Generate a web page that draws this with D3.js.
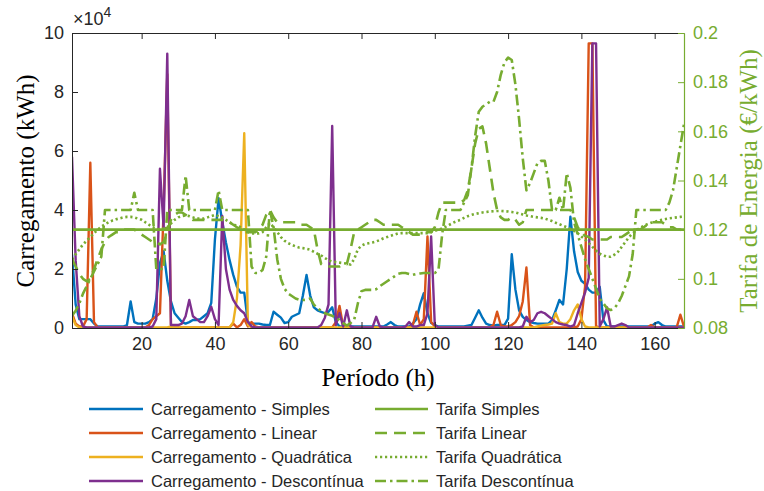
<!DOCTYPE html>
<html>
<head>
<meta charset="utf-8">
<script src="https://cdn.jsdelivr.net/npm/d3@7"></script>
<style>
  html, body { margin: 0; padding: 0; background: #fff; }
  svg { display: block; }
</style>
</head>
<body>
<svg id="chart" width="764" height="491"></svg>
<script>
// Hourly charging energy (in units of 10^4 kWh) for each tariff scheme
const hours = d3.range(1, 169);

const cargaSimples = [
  2.5, 0.8, 0.3, 0.3, 0.3, 0.3, 0.15, 0.05, 0.05, 0.05, 0.05, 0.05,
  0.05, 0.05, 0.05, 0.1, 0.9, 0.2, 0.15, 0.15, 0.15, 0.2, 0.3, 1.0,
  2.2, 2.6, 1.6, 0.9, 0.5, 0.35, 0.2, 0.15, 0.2, 0.27, 0.27, 0.3,
  0.4, 0.5, 0.85, 3.0, 4.4, 3.6, 2.9, 2.3, 1.8, 1.4, 1.2, 1.2,
  0.2, 0.15, 0.15, 0.15, 0.12, 0.1, 0.1, 0.55, 0.45, 0.35, 0.17, 0.2,
  0.38, 0.44, 0.5, 1.1, 1.8, 1.1, 0.7, 0.6, 0.55, 0.5, 0.55, 0.7,
  0.2, 0.05, 0.05, 0.05, 0.05, 0.05, 0.05, 0.05, 0.05, 0.05, 0.05, 0.05,
  0.05, 0.05, 0.12, 0.2, 0.1, 0.05, 0.05, 0.05, 0.05, 0.15, 0.3, 0.8,
  1.18, 0.5, 0.17, 0.1, 0.05, 0.05, 0.05, 0.05, 0.05, 0.05, 0.05, 0.05,
  0.08, 0.1, 0.35, 0.6, 0.35, 0.15, 0.1, 0.08, 0.1, 0.1, 0.1, 0.32,
  2.5, 1.3, 0.6, 0.38, 0.27, 0.2, 0.17, 0.15, 0.15, 0.15, 0.15, 0.27,
  0.6, 0.95, 0.8, 2.0, 3.77, 2.6, 1.9, 1.6, 1.5, 1.3, 1.2, 1.2,
  1.4, 0.27, 0.05, 0.05, 0.05, 0.05, 0.05, 0.05, 0.05, 0.05, 0.05, 0.05,
  0.05, 0.05, 0.05, 0.15, 0.2, 0.1, 0.05, 0.05, 0.05, 0.05, 0.05, 0.05
];

const cargaLinear = [
  0.5, 0.15, 0.05, 0.05, 0.3, 5.6, 0.2, 0.02, 0.02, 0.02, 0.02, 0.02,
  0.02, 0.02, 0.02, 0.02, 0.02, 0.02, 0.02, 0.02, 0.02, 0.1, 0.3, 0.4,
  0.5, 4.0, 8.6, 0.1, 0.02, 0.02, 0.02, 0.02, 0.02, 0.02, 0.02, 0.02,
  0.02, 0.02, 0.02, 0.02, 0.02, 0.02, 0.02, 0.02, 0.15, 0.02, 0.1, 0.3,
  0.05, 0.2, 0.05, 0.02, 0.02, 0.02, 0.02, 0.02, 0.02, 0.02, 0.02, 0.02,
  0.02, 0.02, 0.02, 0.02, 0.02, 0.02, 0.02, 0.02, 0.02, 0.02, 0.02, 0.02,
  0.2, 0.75, 0.05, 0.02, 0.02, 0.02, 0.02, 0.02, 0.02, 0.02, 0.02, 0.02,
  0.02, 0.02, 0.02, 0.02, 0.02, 0.02, 0.02, 0.02, 0.02, 0.1, 0.55, 0.1,
  0.3, 3.1, 0.2, 0.05, 0.02, 0.02, 0.02, 0.02, 0.02, 0.02, 0.02, 0.02,
  0.02, 0.02, 0.02, 0.02, 0.02, 0.02, 0.02, 0.1, 0.55, 0.1, 0.05, 0.05,
  0.1, 0.2, 0.4, 0.9, 2.05, 0.1, 0.02, 0.02, 0.02, 0.02, 0.02, 0.02,
  0.02, 0.02, 0.02, 0.02, 0.02, 0.02, 0.05, 0.3, 1.4, 9.65, 9.65, 0.05,
  0.02, 0.02, 0.02, 0.02, 0.02, 0.02, 0.02, 0.02, 0.02, 0.02, 0.02, 0.02,
  0.02, 0.02, 0.1, 0.02, 0.02, 0.02, 0.02, 0.02, 0.02, 0.02, 0.45, 0.05
];

const cargaQuadratica = [
  0.4, 0.1, 0.02, 0.02, 0.02, 0.02, 0.02, 0.02, 0.02, 0.02, 0.02, 0.02,
  0.02, 0.02, 0.02, 0.02, 0.02, 0.02, 0.02, 0.02, 0.02, 0.02, 0.02, 0.02,
  0.02, 0.02, 0.02, 0.05, 0.02, 0.02, 0.02, 0.02, 0.02, 0.02, 0.02, 0.02,
  0.02, 0.02, 0.02, 0.02, 0.02, 0.02, 0.02, 0.02, 0.2, 1.0, 2.8, 6.6,
  0.1, 0.02, 0.02, 0.02, 0.02, 0.02, 0.02, 0.02, 0.02, 0.02, 0.02, 0.02,
  0.02, 0.02, 0.02, 0.02, 0.02, 0.02, 0.02, 0.02, 0.02, 0.02, 0.02, 0.02,
  0.02, 0.02, 0.02, 0.02, 0.02, 0.02, 0.02, 0.02, 0.02, 0.02, 0.02, 0.02,
  0.02, 0.02, 0.02, 0.02, 0.02, 0.02, 0.02, 0.02, 0.02, 0.02, 0.02, 0.02,
  0.02, 0.02, 0.02, 0.02, 0.02, 0.02, 0.02, 0.02, 0.02, 0.02, 0.02, 0.02,
  0.02, 0.02, 0.02, 0.02, 0.02, 0.02, 0.02, 0.02, 0.02, 0.02, 0.02, 0.02,
  0.02, 0.02, 0.02, 0.02, 0.02, 0.02, 0.02, 0.05, 0.08, 0.1, 0.12, 0.15,
  0.5, 0.2, 0.15, 0.15, 0.3, 0.6, 0.8, 0.3, 0.05, 0.02, 0.02, 0.02,
  0.02, 0.02, 0.02, 0.02, 0.02, 0.02, 0.02, 0.02, 0.02, 0.02, 0.02, 0.02,
  0.02, 0.02, 0.02, 0.02, 0.02, 0.02, 0.02, 0.02, 0.02, 0.02, 0.02, 0.02
];

const cargaDescontinua = [
  5.8, 2.3, 0.4, 0.05, 0.02, 0.02, 0.02, 0.02, 0.02, 0.02, 0.02, 0.02,
  0.02, 0.02, 0.02, 0.02, 0.02, 0.02, 0.02, 0.02, 0.02, 0.02, 0.05, 0.3,
  5.4, 3.4, 9.3, 0.1, 0.1, 0.1, 0.15, 0.4, 0.95, 0.4, 0.3, 0.2,
  0.2, 0.4, 0.72, 0.3, 0.1, 3.8, 2.0, 1.3, 0.95, 0.75, 0.6, 0.5,
  0.2, 0.05, 0.02, 0.02, 0.02, 0.02, 0.02, 0.02, 0.02, 0.02, 0.02, 0.02,
  0.02, 0.02, 0.02, 0.02, 0.02, 0.02, 0.02, 0.02, 0.1, 0.35, 0.8, 6.85,
  0.1, 0.5, 0.05, 0.6, 0.05, 0.02, 0.02, 0.02, 0.02, 0.02, 0.02, 0.38,
  0.05, 0.02, 0.02, 0.02, 0.02, 0.02, 0.02, 0.05, 0.2, 0.05, 0.05, 0.1,
  0.1, 0.5, 3.1, 0.1, 0.02, 0.02, 0.02, 0.02, 0.02, 0.02, 0.02, 0.02,
  0.02, 0.02, 0.02, 0.02, 0.02, 0.02, 0.02, 0.02, 0.02, 0.02, 0.02, 0.02,
  0.02, 0.02, 0.02, 0.05, 0.38, 0.2, 0.27, 0.5, 0.55, 0.5, 0.4, 0.3,
  0.2, 0.15, 0.12, 0.1, 0.05, 0.1, 0.5, 0.85, 1.2, 1.7, 9.65, 9.65,
  0.05, 0.3, 0.7, 0.05, 0.05, 0.1, 0.15, 0.1, 0.02, 0.02, 0.02, 0.02,
  0.02, 0.02, 0.02, 0.02, 0.02, 0.02, 0.02, 0.02, 0.02, 0.02, 0.02, 0.02
];

// Energy tariffs (EUR/kWh)
const tarifaSimples = 0.12;

const tarifaLinear = [
  0.108, 0.105, 0.102, 0.100, 0.099, 0.100, 0.104, 0.108, 0.112, 0.115, 0.117, 0.118,
  0.119, 0.119, 0.120, 0.120, 0.120, 0.120, 0.119, 0.118, 0.117, 0.116, 0.115, 0.115,
  0.114, 0.115, 0.119, 0.124, 0.126, 0.127, 0.127, 0.126, 0.125, 0.124, 0.124, 0.124,
  0.124, 0.124, 0.124, 0.124, 0.124, 0.124, 0.123, 0.123, 0.122, 0.121, 0.120, 0.119,
  0.119, 0.119, 0.119, 0.120, 0.122, 0.126, 0.128, 0.125, 0.123, 0.123, 0.123, 0.123,
  0.123, 0.123, 0.122, 0.122, 0.122, 0.121, 0.120, 0.112, 0.106, 0.105, 0.105, 0.105,
  0.105, 0.105, 0.106, 0.106, 0.112, 0.119, 0.120, 0.121, 0.122, 0.123, 0.124, 0.124,
  0.123, 0.122, 0.122, 0.122, 0.122, 0.122, 0.121, 0.120, 0.119, 0.118, 0.118, 0.118,
  0.118, 0.119, 0.119, 0.121, 0.127, 0.131, 0.131, 0.131, 0.131, 0.131, 0.131, 0.132,
  0.136, 0.145, 0.155, 0.161, 0.162, 0.155, 0.145, 0.135, 0.128, 0.125, 0.124, 0.124,
  0.125, 0.124, 0.122, 0.123, 0.128, 0.128, 0.128, 0.128, 0.128, 0.128, 0.128, 0.128,
  0.128, 0.128, 0.128, 0.128, 0.128, 0.125, 0.121, 0.119, 0.1175, 0.117, 0.116, 0.116,
  0.116, 0.116, 0.116, 0.117, 0.117, 0.117, 0.117, 0.118, 0.119, 0.120, 0.120, 0.120,
  0.121, 0.122, 0.123, 0.123, 0.123, 0.123, 0.122, 0.121, 0.121, 0.120, 0.120, 0.119
];

const tarifaQuadratica = [
  0.108, 0.110, 0.112, 0.114, 0.1155, 0.117, 0.1185, 0.120, 0.1212, 0.1222, 0.123, 0.1237,
  0.1242, 0.1246, 0.125, 0.1252, 0.1252, 0.125, 0.1245, 0.124, 0.123, 0.122, 0.121, 0.1205,
  0.120, 0.1205, 0.121, 0.1225, 0.124, 0.125, 0.1255, 0.1258, 0.1255, 0.125, 0.1245, 0.1245,
  0.1245, 0.125, 0.1255, 0.126, 0.1255, 0.125, 0.124, 0.123, 0.1222, 0.1215, 0.121, 0.120,
  0.119, 0.1185, 0.1185, 0.1185, 0.119, 0.121, 0.1227, 0.121, 0.119, 0.117, 0.1155, 0.1145,
  0.1138, 0.1132, 0.1127, 0.1125, 0.1122, 0.1118, 0.111, 0.1102, 0.1095, 0.1085, 0.1075, 0.107,
  0.1068, 0.1066, 0.1064, 0.1062, 0.1058, 0.108, 0.112, 0.1135, 0.1142, 0.1145, 0.1148, 0.1152,
  0.1158, 0.1165, 0.117, 0.1175, 0.118, 0.1185, 0.1186, 0.1186, 0.1186, 0.1186, 0.1186, 0.1186,
  0.1186, 0.1186, 0.119, 0.1195, 0.120, 0.1205, 0.1212, 0.122, 0.1228, 0.1235, 0.124, 0.1248,
  0.1255, 0.126, 0.1264, 0.1267, 0.127, 0.1272, 0.1274, 0.1275, 0.1276, 0.1276, 0.1275, 0.1274,
  0.1272, 0.127, 0.1266, 0.1262, 0.1258, 0.1255, 0.1252, 0.125, 0.1248, 0.1245, 0.124, 0.1235,
  0.1228, 0.1222, 0.1216, 0.121, 0.1203, 0.1195, 0.1185, 0.1172, 0.116, 0.1145, 0.113, 0.1115,
  0.1102, 0.1095, 0.109, 0.109, 0.1098, 0.111, 0.113, 0.115, 0.117, 0.1185, 0.1197, 0.1207,
  0.1215, 0.1222, 0.1228, 0.1232, 0.1236, 0.124, 0.1243, 0.1246, 0.1248, 0.125, 0.1252, 0.1253
];

const tarifaDescontinua = [
  0.085, 0.087, 0.090, 0.094, 0.097, 0.100, 0.103, 0.106, 0.109, 0.128, 0.128, 0.128,
  0.128, 0.128, 0.128, 0.128, 0.128, 0.135, 0.128, 0.128, 0.128, 0.128, 0.128, 0.104,
  0.104, 0.104, 0.128, 0.128, 0.128, 0.128, 0.128, 0.142, 0.128, 0.128, 0.128, 0.128,
  0.128, 0.128, 0.128, 0.128, 0.136, 0.128, 0.128, 0.128, 0.128, 0.128, 0.128, 0.128,
  0.128, 0.105, 0.1024, 0.1024, 0.1036, 0.109, 0.128, 0.121, 0.108, 0.100, 0.096, 0.094,
  0.093, 0.092, 0.0915, 0.0914, 0.0915, 0.092, 0.0895, 0.088, 0.087, 0.086, 0.0855, 0.085,
  0.084, 0.0833, 0.082, 0.081, 0.082, 0.0833, 0.090, 0.095, 0.0955, 0.0955, 0.0955, 0.0958,
  0.097, 0.098, 0.099, 0.100, 0.101, 0.102, 0.1024, 0.1024, 0.102, 0.1016, 0.102, 0.1022,
  0.1024, 0.1024, 0.1024, 0.1024, 0.1036, 0.118, 0.128, 0.128, 0.128, 0.128, 0.128, 0.131,
  0.134, 0.145, 0.158, 0.168, 0.170, 0.171, 0.172, 0.172, 0.176, 0.183, 0.188, 0.190,
  0.189, 0.179, 0.165, 0.149, 0.136, 0.139, 0.143, 0.147, 0.148, 0.148, 0.140, 0.128,
  0.128, 0.133, 0.128, 0.143, 0.137, 0.123, 0.118, 0.113, 0.108, 0.104, 0.100, 0.096,
  0.092, 0.090, 0.088, 0.0873, 0.088, 0.090, 0.093, 0.097, 0.101, 0.110, 0.128, 0.128,
  0.128, 0.128, 0.128, 0.128, 0.128, 0.128, 0.128, 0.131, 0.136, 0.145, 0.154, 0.163
];

const yLeftTicks = [0, 2, 4, 6, 8, 10];
const yRightTicks = [0.08, 0.1, 0.12, 0.14, 0.16, 0.18, 0.2];
const xTicks = [20, 40, 60, 80, 100, 120, 140, 160];

const cargaSeries = [
  { name: "Carregamento - Simples", values: cargaSimples, color: "#0072BD" },
  { name: "Carregamento - Linear", values: cargaLinear, color: "#D95319" },
  { name: "Carregamento - Quadrática", values: cargaQuadratica, color: "#EDB120" },
  { name: "Carregamento - Descontínua", values: cargaDescontinua, color: "#7E2F8E" }
];
const green = "#77AC30";
const tarifaSeries = [
  { name: "Tarifa Simples", values: hours.map(() => tarifaSimples), dash: null },
  { name: "Tarifa Linear", values: tarifaLinear, dash: "12,7" },
  { name: "Tarifa Quadrática", values: tarifaQuadratica, dash: "2.2,2.8" },
  { name: "Tarifa Descontínua", values: tarifaDescontinua, dash: "11,4,2.5,4" }
];

const svg = d3.select("#chart");
const plot = { left: 72, right: 684, top: 33, bottom: 328 };
const axisColor = "#262626";
const sansFont = '"Liberation Sans", Arial, sans-serif';
const serifFont = '"Liberation Serif", "Times New Roman", serif';

const x = d3.scaleLinear().domain([1, 168]).range([plot.left, plot.right]);
const yL = d3.scaleLinear().domain([0, 10]).range([plot.bottom, plot.top]);
const yR = d3.scaleLinear().domain([0.08, 0.2]).range([plot.bottom, plot.top]);

svg.append("defs").append("clipPath").attr("id", "plotClip")
  .append("rect")
  .attr("x", plot.left).attr("y", plot.top - 2)
  .attr("width", plot.right - plot.left).attr("height", plot.bottom - plot.top + 2);

// charging curves (left axis)
const lineL = d3.line().x((d, i) => x(hours[i])).y(d => yL(d));
const gL = svg.append("g").attr("clip-path", "url(#plotClip)");
cargaSeries.forEach(s => {
  gL.append("path").datum(s.values)
    .attr("d", lineL)
    .attr("fill", "none")
    .attr("stroke", s.color)
    .attr("stroke-width", 2.4)
    .attr("stroke-linejoin", "round");
});

// tariff curves (right axis)
const lineR = d3.line().x((d, i) => x(hours[i])).y(d => yR(d));
const gR = svg.append("g").attr("clip-path", "url(#plotClip)");
tarifaSeries.forEach(s => {
  gR.append("path").datum(s.values)
    .attr("d", lineR)
    .attr("fill", "none")
    .attr("stroke", green)
    .attr("stroke-width", 2.6)
    .attr("stroke-dasharray", s.dash)
    .attr("stroke-linejoin", "round");
});

// axes
const xAxis = d3.axisBottom(x).tickValues(xTicks).tickSizeInner(-6).tickSizeOuter(0).tickPadding(9);
const gx = svg.append("g").attr("transform", `translate(0,${plot.bottom})`).call(xAxis);

const xTop = d3.axisTop(x).tickValues(xTicks).tickSizeInner(-6).tickSizeOuter(0).tickFormat("");
const gxt = svg.append("g").attr("transform", `translate(0,${plot.top})`).call(xTop);

const yAxisL = d3.axisLeft(yL).tickValues(yLeftTicks).tickSizeInner(-6).tickSizeOuter(0).tickPadding(8);
const gyl = svg.append("g").attr("transform", `translate(${plot.left},0)`).call(yAxisL);

const yAxisR = d3.axisRight(yR).tickValues(yRightTicks).tickSizeInner(-6).tickSizeOuter(0).tickPadding(9)
  .tickFormat(d => d3.format("")(+d.toFixed(2)));
const gyr = svg.append("g").attr("transform", `translate(${plot.right},0)`).call(yAxisR);

[gx, gxt, gyl].forEach(g => {
  g.select(".domain").attr("stroke", axisColor).attr("stroke-width", 1);
  g.selectAll(".tick line").attr("stroke", axisColor);
  g.selectAll(".tick text").attr("fill", axisColor).style("font-family", sansFont).style("font-size", "18px");
});
gyr.select(".domain").attr("stroke", green).attr("stroke-width", 1.2);
gyr.selectAll(".tick line").attr("stroke", green);
gyr.selectAll(".tick text").attr("fill", green).style("font-family", sansFont).style("font-size", "18px");

// exponent marker for the left axis
const expo = svg.append("text")
  .attr("x", 73).attr("y", 25)
  .attr("fill", axisColor)
  .style("font-family", sansFont).style("font-size", "18px");
expo.append("tspan").text("×10");
expo.append("tspan").attr("dy", -8).style("font-size", "14px").text("4");

// axis titles
svg.append("text")
  .attr("transform", "translate(34,181) rotate(-90)")
  .attr("text-anchor", "middle")
  .attr("fill", "#000")
  .style("font-family", serifFont).style("font-size", "25px")
  .text("Carregamento (kWh)");

svg.append("text")
  .attr("transform", "translate(757,181) rotate(-90)")
  .attr("text-anchor", "middle")
  .attr("fill", green)
  .style("font-family", serifFont).style("font-size", "25px")
  .text("Tarifa de Energia (€/kWh)");

svg.append("text")
  .attr("x", 378).attr("y", 386)
  .attr("text-anchor", "middle")
  .attr("fill", "#000")
  .style("font-family", serifFont).style("font-size", "25px")
  .text("Período (h)");

// legend
const legend = svg.append("g");
const rowY = [409, 433, 457, 481];
cargaSeries.forEach((s, i) => {
  legend.append("line")
    .attr("x1", 89).attr("x2", 143).attr("y1", rowY[i]).attr("y2", rowY[i])
    .attr("stroke", s.color).attr("stroke-width", 2.4);
  legend.append("text")
    .attr("x", 151).attr("y", rowY[i]).attr("dy", "0.35em")
    .attr("fill", axisColor)
    .style("font-family", sansFont).style("font-size", "16.5px")
    .text(s.name);
});
tarifaSeries.forEach((s, i) => {
  legend.append("line")
    .attr("x1", 375).attr("x2", 428).attr("y1", rowY[i]).attr("y2", rowY[i])
    .attr("stroke", green).attr("stroke-width", 2.6)
    .attr("stroke-dasharray", s.dash);
  legend.append("text")
    .attr("x", 436).attr("y", rowY[i]).attr("dy", "0.35em")
    .attr("fill", axisColor)
    .style("font-family", sansFont).style("font-size", "16.5px")
    .text(s.name);
});
</script>
</body>
</html>
